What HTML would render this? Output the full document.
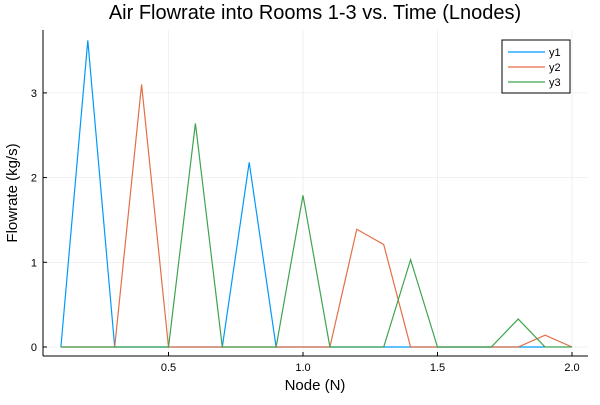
<!DOCTYPE html>
<html><head><meta charset="utf-8"><style>
body{margin:0;background:#fff;font-family:"Liberation Sans",sans-serif}
</style></head><body>
<svg id="c" width="600" height="400" xmlns="http://www.w3.org/2000/svg" font-family="Liberation Sans, sans-serif">
<rect width="600" height="400" fill="#fff"/>
<text x="315" y="19" text-anchor="middle" font-size="20">Air Flowrate into Rooms 1-3 vs. Time (Lnodes)</text>
<g id="grid"></g><g id="axes"></g><g id="series"></g>
<text x="315" y="390" text-anchor="middle" font-size="15">Node (N)</text>
<text transform="translate(17,193) rotate(-90)" text-anchor="middle" font-size="15">Flowrate (kg/s)</text>
<g>
<rect x="502" y="40" width="68" height="53" fill="#fff" stroke="#000" stroke-width="1"/>
<line x1="508" y1="52" x2="545" y2="52" stroke="#009AFA" stroke-width="1.2"/><text x="549" y="56" font-size="11">y1</text>
<line x1="508" y1="67" x2="545" y2="67" stroke="#E36F47" stroke-width="1.2"/><text x="549" y="71" font-size="11">y2</text>
<line x1="508" y1="82" x2="545" y2="82" stroke="#3EA44E" stroke-width="1.2"/><text x="549" y="86" font-size="11">y3</text>
</g>
</svg>
<script>
const xs=[0.1,0.2,0.3,0.4,0.5,0.6,0.7,0.8,0.9,1.0,1.1,1.2,1.3,1.4,1.5,1.6,1.7,1.8,1.9,2.0];
const y1=[0,3.62,0,0,0,0,0,2.18,0,0,0,0,0,0,0,0,0,0,0];
const y2=[0,0,0,3.1,0,0,0,0,0,0,0,1.39,1.21,0,0,0,0,0,0.14,0];
const y3=[0,0,0,0,0,2.64,0,0,0,1.79,0,0,0,1.03,0,0,0,0.33,0,0];
const xTicks=[0.5,1.0,1.5,2.0];
const yTicks=[0,1,2,3];
const X=v=>34+v*269, Y=v=>347-v*84.7;
const NS="http://www.w3.org/2000/svg";
function mk(t,a,p){const e=document.createElementNS(NS,t);for(const k in a)e.setAttribute(k,a[k]);p.appendChild(e);return e;}
const g=document.getElementById('grid'),ax=document.getElementById('axes'),s=document.getElementById('series');
xTicks.forEach(v=>{
 const l=mk('line',{x1:X(v),x2:X(v),y1:30,y2:356,stroke:'#000','stroke-opacity':0.1,'stroke-width':0.5},g);
 
 
 const t=mk('text',{x:X(v),y:371,'text-anchor':'middle','font-size':11},ax);t.textContent=v.toFixed(1);
 
 
 mk('line',{x1:X(v),x2:X(v),y1:356,y2:352,stroke:'#000'},ax);
});
yTicks.forEach(v=>{
 const l=mk('line',{x1:43,x2:588,y1:Y(v),y2:Y(v),stroke:'#000','stroke-opacity':0.1,'stroke-width':0.5},g);
 
 
 const t=mk('text',{x:37,y:Y(v)+4,'text-anchor':'end','font-size':11},ax);t.textContent=v;
 
 
 mk('line',{x1:43,x2:47,y1:Y(v),y2:Y(v),stroke:'#000'},ax);
});
mk('line',{x1:43,x2:588,y1:356,y2:356,stroke:'#000'},ax);
mk('line',{x1:43,x2:43,y1:30,y2:356,stroke:'#000'},ax);
[[y1,'#009AFA','series-y1'],[y2,'#E36F47','series-y2'],[y3,'#3EA44E','series-y3']].forEach(([d,c,n])=>{
 const p=mk('polyline',{points:d.map((v,i)=>X(xs[i])+','+Y(v)).join(' '),fill:'none',stroke:c,'stroke-width':1.2},s);
 
 
});
</script>
</body></html>
